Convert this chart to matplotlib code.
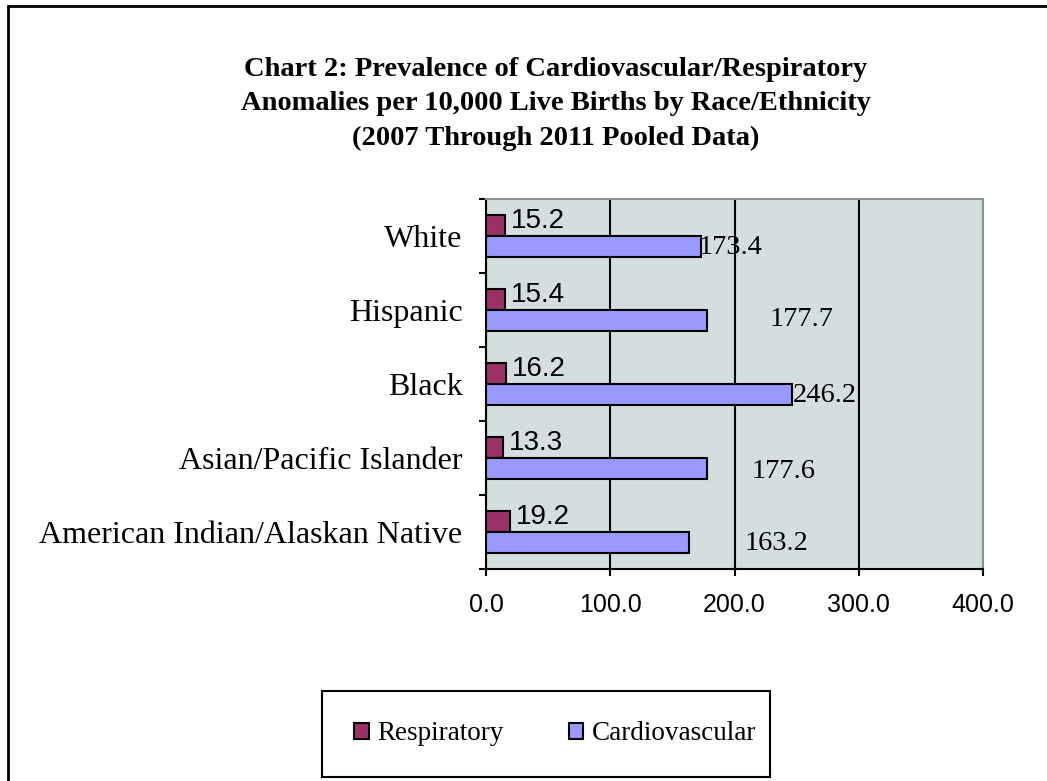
import matplotlib
matplotlib.use('Agg')
import matplotlib.pyplot as plt
from matplotlib.patches import Rectangle
import numpy as np

# data, top to bottom as in the chart
groups = ['White', 'Hispanic', 'Black', 'Asian/Pacific Islander',
          'American Indian/Alaskan Native']
respiratory = [15.2, 15.4, 16.2, 13.3, 19.2]
cardiovascular = [173.4, 177.7, 246.2, 177.6, 163.2]
xticks = [0, 100, 200, 300, 400]

# label offsets (pixels) for the cardiovascular values, as placed in the original
cardio_dx = [-3, 63, 1, 45, 56]
cardio_dy = [0, 2, 0, -2, 0]

serif = 'Liberation Serif'
sans = 'Liberation Sans'

fig = plt.figure(figsize=(10.47, 7.81), dpi=100)
fig.patch.set_facecolor('white')

# outer frame of the chart object
fig.patches.append(Rectangle((8 / 1047, -0.05), 1.2, 1 - 6 / 781 + 0.05,
                             transform=fig.transFigure, fill=False,
                             edgecolor='black', linewidth=2, zorder=0))

ax = fig.add_axes([486 / 1047, 1 - 569 / 781, 497 / 1047, 370 / 781])
ax.set_facecolor('#D5DEDE')

y = np.arange(len(groups))
h = 0.285
ax.barh(y - h / 2, respiratory, height=h, color='#993366',
        edgecolor='black', linewidth=1.5, label='Respiratory', zorder=3)
ax.barh(y + h / 2, cardiovascular, height=h, color='#9999FF',
        edgecolor='black', linewidth=1.5, label='Cardiovascular', zorder=3)

for i, v in enumerate(respiratory):
    ax.annotate(f'{v:.1f}', (v, i - h / 2), xytext=(6, 4),
                textcoords='offset pixels', va='center', ha='left',
                fontsize=20, family=sans, zorder=4)
for i, v in enumerate(cardiovascular):
    ax.annotate(f'{v:.1f}', (v, i + h / 2),
                xytext=(cardio_dx[i], cardio_dy[i] - 1),
                textcoords='offset pixels', va='center', ha='left',
                fontsize=20.5, family=serif, zorder=4)

ax.set_xlim(0, 400)
ax.set_ylim(len(groups) - 0.5, -0.5)
ax.set_xticks(xticks)
ax.set_xticklabels([f'{t:.1f}' for t in xticks], family=sans, fontsize=18)
ax.xaxis.grid(True, color='black', linewidth=1.5, zorder=1)
ax.set_axisbelow(True)

ax.set_yticks(np.arange(len(groups) + 1) - 0.5)
ax.set_yticklabels([])
ax.set_yticks(y, minor=True)
ax.set_yticklabels(groups, minor=True, family=serif, fontsize=23)
ax.tick_params(axis='y', which='minor', length=0, pad=17)
ax.tick_params(axis='y', which='major', length=5, width=1.5)
ax.tick_params(axis='x', length=5, width=1.5, pad=12.5)

for side in ['left', 'bottom']:
    ax.spines[side].set_linewidth(1.5)
    ax.spines[side].set_color('black')
for side in ['top', 'right']:
    ax.spines[side].set_linewidth(1.5)
    ax.spines[side].set_color('#909090')

fig.text(556 / 1047, 1 - 104 / 781,
         'Chart 2: Prevalence of Cardiovascular/Respiratory\n'
         'Anomalies per 10,000 Live Births by Race/Ethnicity\n'
         '(2007 Through 2011 Pooled Data)',
         ha='center', va='center', family=serif, fontweight='bold',
         fontsize=20.5, linespacing=1.52)

# legend box
fig.patches.append(Rectangle((322 / 1047, 1 - 777 / 781), 448 / 1047, 86 / 781,
                             transform=fig.transFigure, fill=False,
                             edgecolor='black', linewidth=1.5))
fig.legend(loc='center', bbox_to_anchor=(555 / 1047, 1 - 734 / 781),
           ncol=2, frameon=False, prop={'family': serif, 'size': 19.5},
           handlelength=0.55, handleheight=0.55, handletextpad=0.3,
           columnspacing=2.4)

fig.savefig('out.png', dpi=100, facecolor='white')
